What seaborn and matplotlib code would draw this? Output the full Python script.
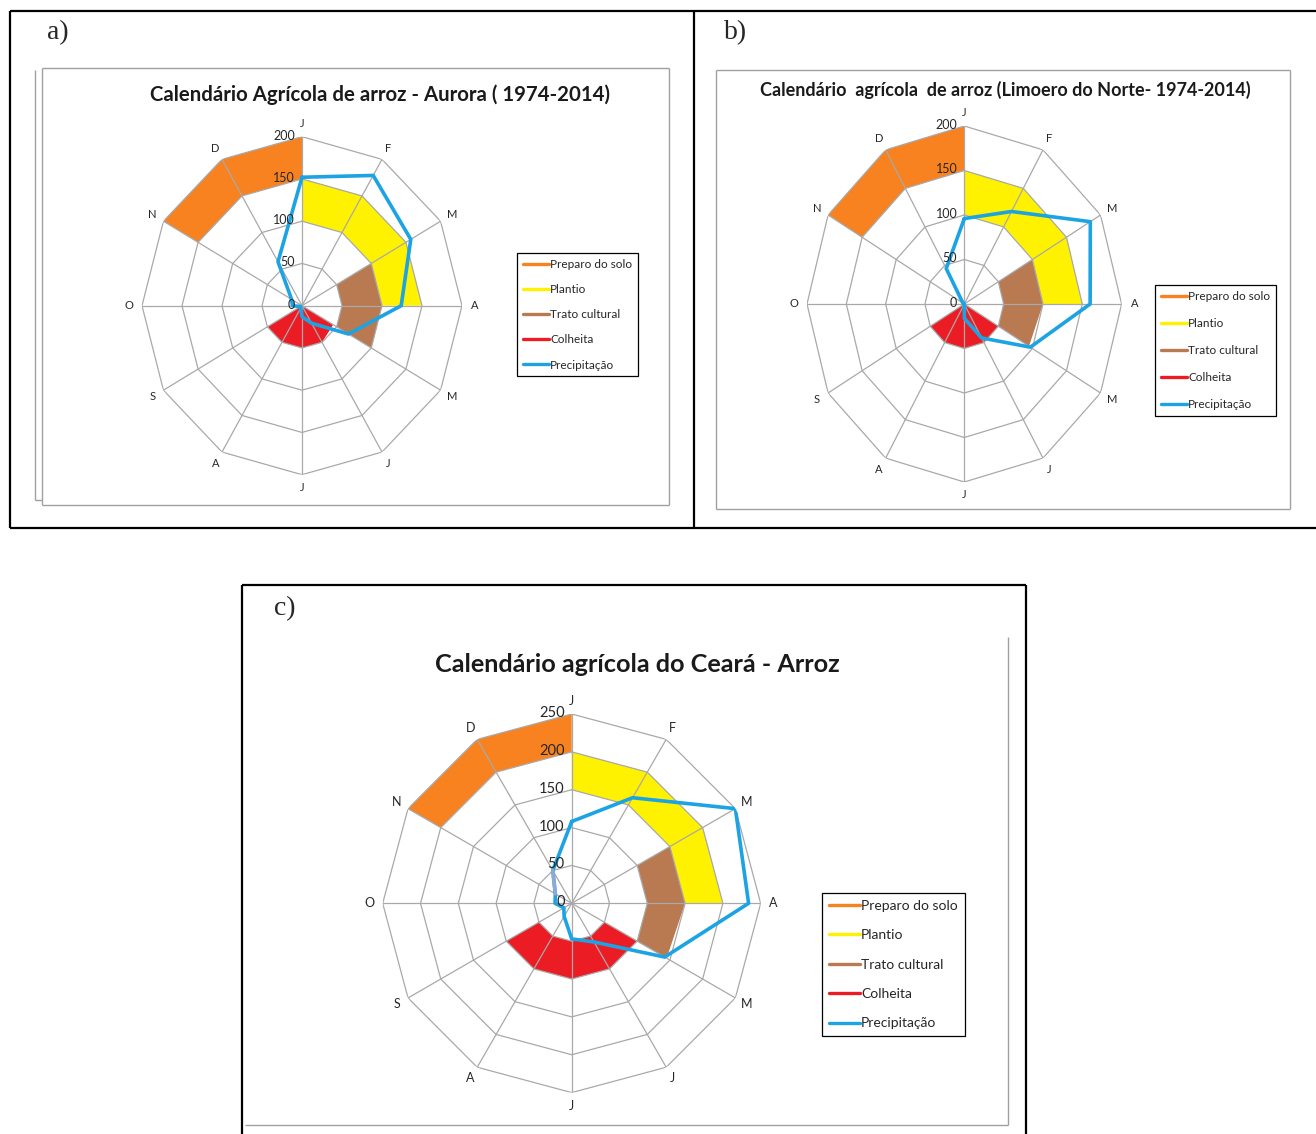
import numpy as np
import matplotlib
matplotlib.use("Agg")
import matplotlib.pyplot as plt
import matplotlib.transforms as mtransforms
from matplotlib.lines import Line2D
import seaborn as sns

sns.set_theme(style="white")
plt.rcParams["font.family"] = ["Lato", "DejaVu Sans"]

# ---------------------------------------------------------------- data
meses = ["J", "F", "M", "A", "M", "J", "J", "A", "S", "O", "N", "D"]
etapas = ["Preparo do solo", "Plantio", "Trato cultural", "Colheita"]
cores = ["#F7821F", "#FFF200", "#B97A52", "#EC1C24"]
cor_chuva = "#1CA3E3"

# month positions covered by each stage (12 closes back on January)
preparo_idx = [10, 11, 12]
plantio_idx = [0, 1, 2, 3]
trato_idx = [2, 3, 4]
colheita_idx = [4, 5, 6, 7, 8]

# Aurora (1974-2014): (inner, outer) value of each stage band
aurora_preparo = ([150, 150, 150], [200, 200, 200])
aurora_plantio = ([100, 100, 100, 100], [150, 150, 150, 150])
aurora_trato = ([50, 50, 50], [100, 100, 100])
aurora_colheita = ([0, 0, 0, 0, 0], [45, 50, 50, 50, 50])
aurora_chuva = [152, 178, 157, 124, 67, 24, 13, 3, 2, 12, 15, 60]

# Limoeiro do Norte (1974-2014)
limoeiro_preparo = ([150, 150, 150], [200, 200, 200])
limoeiro_plantio = ([100, 100, 100, 100], [150, 150, 150, 150])
limoeiro_trato = ([50, 50, 50], [100, 100, 95])
limoeiro_colheita = ([0, 0, 0, 0, 0], [50, 50, 50, 50, 50])
limoeiro_chuva = [96, 120, 185, 160, 97, 44, 16, 0, 0, 0, 2, 46]

# Ceara
ceara_preparo = ([200, 200, 200], [250, 250, 250])
ceara_plantio = ([150, 150, 150, 150], [200, 200, 200, 200])
ceara_trato = ([100, 100, 100], [150, 150, 145])
ceara_colheita = ([50, 50, 50, 50, 50], [100, 100, 100, 100, 100])
ceara_chuva = [108, 161, 250, 234, 142, 59, 47, 20, 12, 22, 25, 50]

indices = [preparo_idx, plantio_idx, trato_idx, colheita_idx]

W, H = 1316, 1134
fig = plt.figure(figsize=(W / 100, H / 100), dpi=100)
fig.patch.set_facecolor("white")

# background layer in pixel units for frames and headings
bg = fig.add_axes([0, 0, 1, 1], zorder=-5)
bg.set_xlim(0, W)
bg.set_ylim(H, 0)
bg.axis("off")

def seg(x0, y0, x1, y1, color="black", lw=1.6):
    bg.plot([x0, x1], [y0, y1], color=color, lw=lw, solid_capstyle="butt")

# outer frames of the composite
seg(10, 11, W, 11)
seg(10, 11, 10, 528)
seg(694, 11, 694, 528)
seg(10, 528, W, 528)
seg(242, 585, 1026, 585)
seg(242, 585, 242, H)
seg(1026, 585, 1026, H)

# chart-area borders
g = "#A0A0A0"
for (x0, y0, x1, y1) in [(42, 68, 669, 68), (669, 68, 669, 505), (42, 505, 669, 505),
                         (42, 68, 42, 505), (35, 70, 35, 500), (35, 500, 42, 500),
                         (716, 70, 1290, 70), (1290, 70, 1290, 509), (716, 509, 1290, 509),
                         (716, 70, 716, 509),
                         (1008, 637, 1008, 1125), (245, 1125, 1008, 1125)]:
    seg(x0, y0, x1, y1, color=g, lw=1.0)

serif = ["Liberation Serif", "DejaVu Serif"]
bg.text(47, 33, "a)", fontsize=20, family=serif, va="center", ha="left")
bg.text(724, 33, "b)", fontsize=20, family=serif, va="center", ha="left")
bg.text(274, 609, "c)", fontsize=20, family=serif, va="center", ha="left")

bg.text(380, 95, "Calendário Agrícola de arroz - Aurora ( 1974-2014)", fontsize=14.7,
        fontweight="bold", ha="center", va="center", color="#1a1a1a")
bg.text(1005, 90, "Calendário  agrícola  de arroz (Limoero do Norte- 1974-2014)", fontsize=13,
        fontweight="bold", ha="center", va="center", color="#1a1a1a")
bg.text(637, 664, "Calendário agrícola do Ceará - Arroz", fontsize=18.2,
        fontweight="bold", ha="center", va="center", color="#1a1a1a")


def radar(rect, rmax, step, bands, chuva, legend_xy, legend_fs, light_seg=None,
          month_fs=8, tick_fs=9, spacing=1.2):
    ax = fig.add_axes(rect, projection="polar")
    ax.set_theta_zero_location("N")
    ax.set_theta_direction(-1)
    ax.set_ylim(0, rmax)
    ax.set_aspect("auto")
    ax.grid(False)
    ax.set_xticks([])
    ax.set_yticks([])
    ax.spines["polar"].set_visible(False)
    ax.set_facecolor("none")

    ang = np.arange(13) * 2 * np.pi / 12

    # stage bands
    for idx, (inner, outer), cor in zip(indices, bands, cores):
        th = ang[idx]
        ax.fill(np.r_[th, th[::-1]], np.r_[outer, inner[::-1]],
                color=cor, lw=0, zorder=2)

    # polygonal grid
    gc = "#A9A9A9"
    for lvl in np.arange(step, rmax + step / 2, step):
        ax.plot(ang, [lvl] * 13, color=gc, lw=0.9, zorder=3)
    for a in ang[:12]:
        ax.plot([a, a], [0, rmax], color=gc, lw=0.9, zorder=3)

    # precipitation
    vals = np.asarray(chuva, dtype=float)
    sns.lineplot(x=np.r_[ang[:12], ang[12]], y=np.r_[vals, vals[0]], sort=False,
                 estimator=None, ax=ax, color=cor_chuva, lw=2.6, zorder=5)
    if light_seg is not None:
        i, j = light_seg
        ax.plot([ang[i], ang[j]], [vals[i], vals[j]], color="#8FA9D6", lw=2.6,
                zorder=6, solid_capstyle="round")
    ax.set_xlabel("")
    ax.set_ylabel("")

    # month labels just outside the outer ring
    for a, m in zip(ang[:12], meses):
        off = mtransforms.offset_copy(ax.transData, fig=fig, x=13 * np.sin(a),
                                      y=13 * np.cos(a), units="dots")
        ax.text(a, rmax, m, transform=off, ha="center", va="center",
                fontsize=month_fs, color="#262626")

    # value labels beside the January spoke
    off = mtransforms.offset_copy(ax.transData, fig=fig, x=-7, y=1, units="dots")
    for lvl in np.arange(0, rmax + step / 2, step):
        ax.text(0, lvl, f"{int(lvl)}", transform=off, ha="right", va="center",
                fontsize=tick_fs, color="#262626", zorder=7)

    handles = [Line2D([0], [0], color=c, lw=2.4) for c in cores + [cor_chuva]]
    leg = ax.legend(handles, etapas + ["Precipitação"], loc="upper left",
                    bbox_to_anchor=legend_xy, bbox_transform=fig.transFigure,
                    borderaxespad=0, frameon=True, fancybox=False, framealpha=1,
                    edgecolor="black", fontsize=legend_fs, handlelength=2.2,
                    handletextpad=0.1, labelspacing=spacing, borderpad=0.5)
    leg.get_frame().set_linewidth(0.9)
    return ax


radar([142 / W, 1 - 474.7 / H, 320 / W, 338 / H], 200, 50,
      [aurora_preparo, aurora_plantio, aurora_trato, aurora_colheita],
      aurora_chuva, (517 / W, 1 - 253 / H), 8.5, spacing=1.2)

radar([807 / W, 1 - 482 / H, 314.6 / W, 356 / H], 200, 50,
      [limoeiro_preparo, limoeiro_plantio, limoeiro_trato, limoeiro_colheita],
      limoeiro_chuva, (1155 / W, 1 - 285 / H), 8.5, spacing=1.35)

radar([382.7 / W, 1 - 1092.6 / H, 378 / W, 378.6 / H], 250, 50,
      [ceara_preparo, ceara_plantio, ceara_trato, ceara_colheita],
      ceara_chuva, (822 / W, 1 - 893 / H), 10, light_seg=(11, 10),
      month_fs=9, tick_fs=10.5, spacing=1.25)

fig.savefig("out.png", dpi=100, facecolor="white")
